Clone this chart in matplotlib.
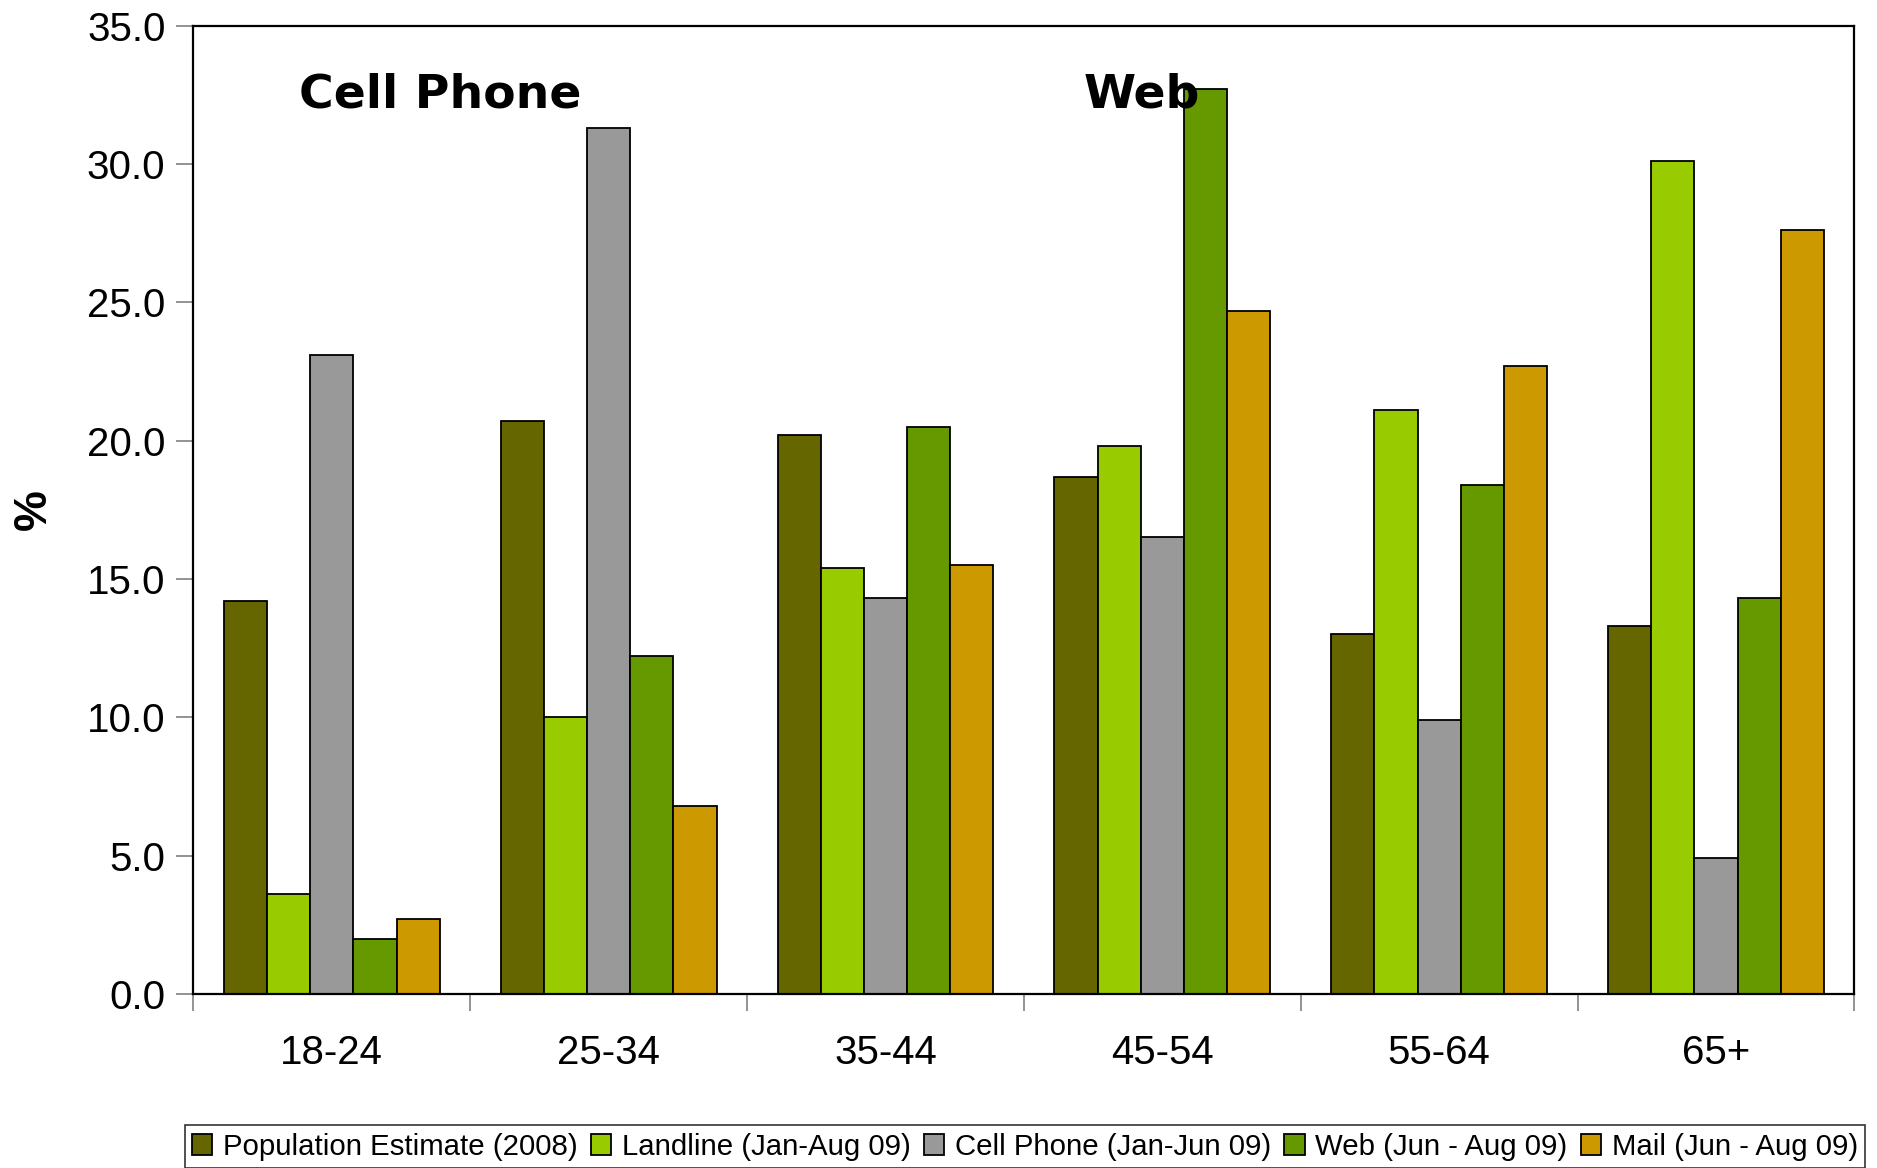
import matplotlib
matplotlib.use('Agg')

import numpy as np
import matplotlib.pyplot as plt
from matplotlib.ticker import FormatStrFormatter, FixedLocator

# Data
age_groups = ['18-24', '25-34', '35-44', '45-54', '55-64', '65+']
series_names = ['Population Estimate (2008)', 'Landline (Jan-Aug 09)',
                'Cell Phone (Jan-Jun 09)', 'Web (Jun - Aug 09)', 'Mail (Jun - Aug 09)']
population = [14.2, 20.7, 20.2, 18.7, 13.0, 13.3]
landline = [3.6, 10.0, 15.4, 19.8, 21.1, 30.1]
cell_phone = [23.1, 31.3, 14.3, 16.5, 9.9, 4.9]
web = [2.0, 12.2, 20.5, 32.7, 18.4, 14.3]
mail = [2.7, 6.8, 15.5, 24.7, 22.7, 27.6]

colors = ['#666600', '#99CC00', '#999999', '#669900', '#CC9900']

plt.rcParams['font.family'] = ['Liberation Sans', 'DejaVu Sans']

fig = plt.figure(figsize=(18.77, 11.68), dpi=100)
ax = fig.add_axes([0.103, 0.149, 0.885, 0.829])

x = np.arange(len(age_groups))
bar_w = 0.156
all_series = [population, landline, cell_phone, web, mail]
for i, (vals, name, c) in enumerate(zip(all_series, series_names, colors)):
    ax.bar(x + (i - 2) * bar_w, vals, width=bar_w, color=c, edgecolor='black',
           linewidth=1.3, label=name, zorder=2)

ax.set_xlim(-0.5, len(age_groups) - 0.5)
ax.set_ylim(0, 35)
ax.set_yticks(np.arange(0, 35.1, 5))
ax.yaxis.set_major_formatter(FormatStrFormatter('%.1f'))
ax.tick_params(axis='y', labelsize=29, length=12, width=1.2, color='#808080', pad=8)

# group labels at centres, tick marks at boundaries
ax.set_xticks(x)
ax.set_xticklabels(age_groups)
ax.tick_params(axis='x', which='major', length=0, labelsize=29, pad=29)
ax.xaxis.set_minor_locator(FixedLocator(np.arange(-0.5, len(age_groups), 1)))
ax.tick_params(axis='x', which='minor', length=12, width=1.2, color='#808080')

for s in ax.spines.values():
    s.set_color('black')
    s.set_linewidth(1.6)

ax.set_ylabel('%', fontsize=33, fontweight='bold', labelpad=22)

ax.text(-0.12, 32.05, 'Cell Phone', fontsize=34, fontweight='bold',
        family='DejaVu Sans', zorder=1)
ax.text(2.717, 32.05, 'Web', fontsize=34, fontweight='bold',
        family='DejaVu Sans', zorder=3)

leg = fig.legend(loc='lower center', bbox_to_anchor=(0.546, 0.0), ncol=5,
                 fontsize=21.2, frameon=True, fancybox=False, edgecolor='black',
                 handlelength=0.7, handleheight=0.7, handletextpad=0.35,
                 columnspacing=0.45, borderpad=0.25, borderaxespad=0.0)
leg.get_frame().set_linewidth(1.2)

fig.savefig('out.png', dpi=100)
